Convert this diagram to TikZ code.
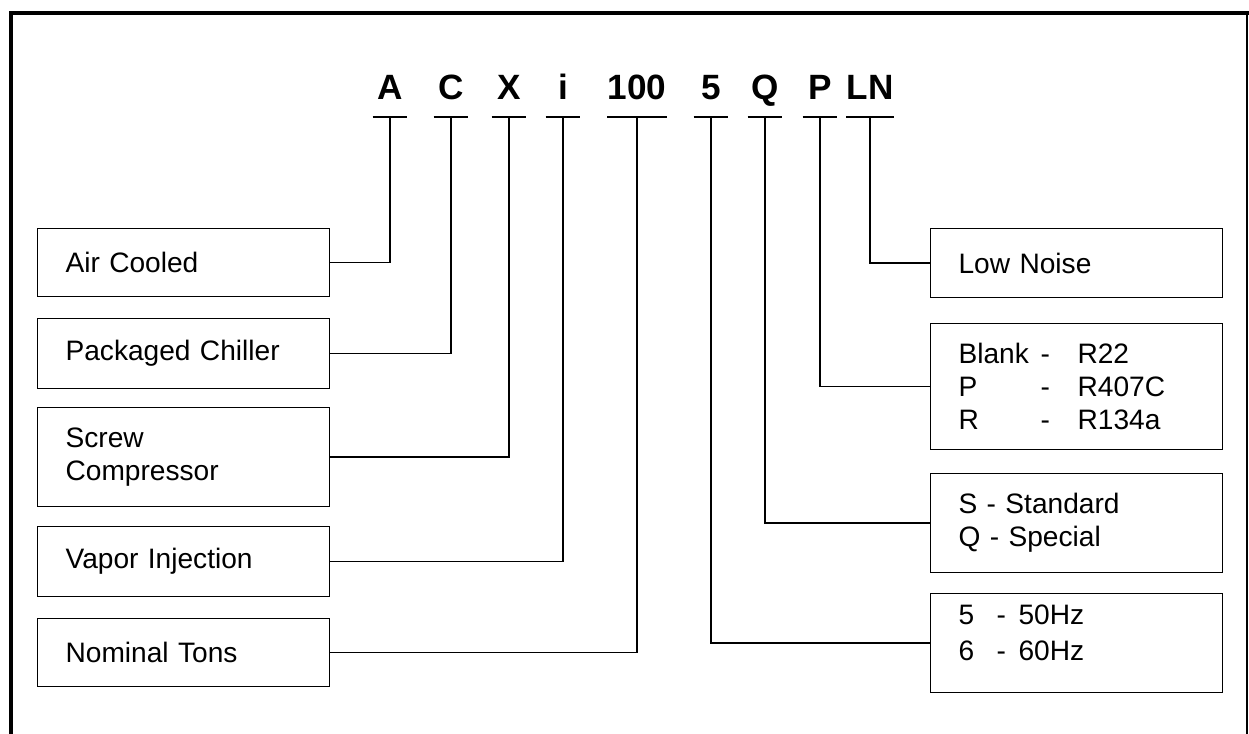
\documentclass[tikz,border=0pt]{standalone}
\usepackage{fontspec}
\setmainfont{Liberation Sans}

\begin{document}
\begin{tikzpicture}[x=0.02cm,y=-0.02cm,
    code/.style={font=\fontsize{20}{24}\bfseries\selectfont,anchor=south,
      inner xsep=0pt,inner ysep=0.34cm,text height=14.3pt,text depth=0pt,
      minimum width=0.68cm},
    box/.style={draw,line width=0.7pt,anchor=north west,minimum width=5.84cm,
      text width=4.72cm,inner xsep=0.56cm,align=left,
      font=\fontsize{16}{18.8}\selectfont},
    link/.style={line width=0.7pt}]
    \useasboundingbox (0,0) rectangle (1249,734);
    % frame, open at the bottom
    \draw[line width=2.8pt] (11,734) -- (11,13) -- (1249,13);
    \draw[line width=0.7pt] (1247,13) -- (1247,734);

    % model code
    \node[code] (A) at (390,117) {A};
    \node[code] (C) at (451,117) {C};
    \node[code] (X) at (509,117) {X};
    \node[code] (i) at (563,117) {i};
    \node[code] (tons) at (637,117) {100};
    \node[code] (hz) at (711,117) {5};
    \node[code] (Q) at (765,117) {Q};
    \node[code] (P) at (820,117) {P};
    \node[code] (LN) at (870,117) {LN};

    % left column
    \node[box,minimum height=1.36cm] (air) at (37,228) {Air Cooled};
    \node[box,minimum height=1.4cm] (pack) at (37,318) {Packaged Chiller};
    \node[box,minimum height=1.98cm] (screw) at (37,407) {Screw\\Compressor};
    \node[box,minimum height=1.4cm] (vapor) at (37,526) {Vapor Injection};
    \node[box,minimum height=1.36cm] (nominal) at (37,618) {Nominal Tons};

    % right column
    \node[box,minimum height=1.38cm] (noise) at (930,228) {Low Noise};
    \node[box,minimum height=2.52cm] (refrig) at (930,323)
      {\makebox[1.64cm][l]{Blank}\makebox[0.74cm][l]{-}R22\\
       \makebox[1.64cm][l]{P}\makebox[0.74cm][l]{-}R407C\\
       \makebox[1.64cm][l]{R}\makebox[0.74cm][l]{-}R134a};
    \node[box,minimum height=1.98cm] (special) at (930,473)
      {S - Standard\\Q - Special};
    \node[box,minimum height=1.98cm] (freq) at (930,593)
      {\makebox[0.76cm][l]{5}\makebox[0.44cm][l]{-}50Hz\\[0.05cm]
       \makebox[0.76cm][l]{6}\makebox[0.44cm][l]{-}60Hz\\[-0.25cm]\mbox{}};

    % underlines
    \draw[link] (A.south west) -- (A.south east);
    \draw[link] (C.south west) -- (C.south east);
    \draw[link] (X.south west) -- (X.south east);
    \draw[link] (i.south west) -- (i.south east);
    \draw[link] (tons.south west) -- (tons.south east);
    \draw[link] (hz.south west) -- (hz.south east);
    \draw[link] (Q.south west) -- (Q.south east);
    \draw[link] (P.south west) -- (P.south east);
    \draw[link] (LN.south west) -- (LN.south east);

    % leaders
    \draw[link] (A.south) |- (air.east);
    \draw[link] (C.south) |- (pack.east);
    \draw[link] (X.south) |- (screw.east);
    \draw[link] (i.south) |- (vapor.east);
    \draw[link] (tons.south) |- (nominal.east);
    \draw[link] (hz.south) |- (freq.west);
    \draw[link] (Q.south) |- (special.west);
    \draw[link] (P.south) |- (refrig.west);
    \draw[link] (LN.south) |- (noise.west);
\end{tikzpicture}
\end{document}
